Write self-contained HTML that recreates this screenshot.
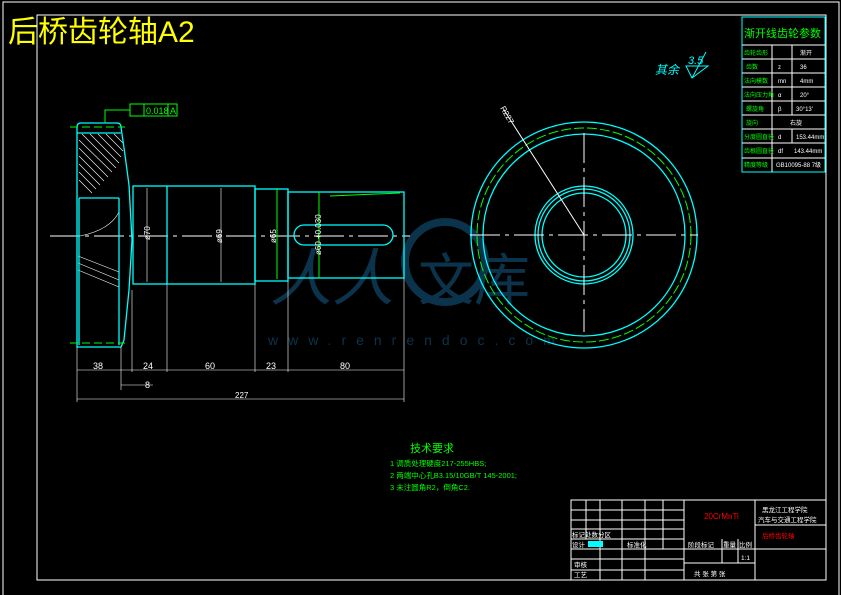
<!DOCTYPE html>
<html><head><meta charset="utf-8"><style>
html,body{margin:0;padding:0;background:#000;width:841px;height:595px;overflow:hidden}
svg{display:block}
text{font-family:"Liberation Sans","Noto Sans CJK SC",sans-serif}
</style></head><body>
<svg width="841" height="595" viewBox="0 0 841 595" xmlns="http://www.w3.org/2000/svg">
<rect x="3" y="2" width="836" height="600" fill="none" stroke="#fff" stroke-width="1"/>
<rect x="37" y="15" width="789" height="565" fill="none" stroke="#fff" stroke-width="1"/>
<text x="8" y="42" fill="#ff0" font-size="30" font-family="'Noto Serif CJK SC','Liberation Serif',serif">后桥齿轮轴A2</text>

<!-- watermark -->
<g fill="#0d3a55" opacity="0.9">
<text x="270" y="300" font-size="62" font-style="italic" font-family="'Noto Serif CJK SC',serif">人人</text>
<circle cx="445" cy="262" r="40" fill="none" stroke="#0d3a55" stroke-width="8"/>
<text x="418" y="300" font-size="56" font-family="'Noto Serif CJK SC',serif">文库</text>
<text x="268" y="345" font-size="14" letter-spacing="10" font-family="Liberation Serif,serif">www.renrendoc.com</text>
</g>

<!-- centerline -->
<line x1="50" y1="236" x2="410" y2="236" stroke="#fff" stroke-dasharray="30,5,4,5"/>
<!-- gear section -->
<g stroke="#fff" stroke-width="0.6" fill="none">
<path d="M79,140 L112,172 M79,148 L108,177 M79,156 L104,181 M79,164 L100,185 M79,172 L96,189 M79,180 L92,193 M82,134 L116,168 M90,134 L119,163 M98,134 L121,157 M106,134 L123,151 M114,134 L124,144"/>
<path d="M80,236 Q110,230 119,212"/>
<path d="M78,256 L119,272 M78,263 L119,280 M78,270 L119,287"/>
</g>
<g fill="none" stroke="#0ff" stroke-width="1.3">
<path d="M77,127 Q77,123 81,123 L117,123 Q121,123 121,127 L125,155 L129,185 L132,240 L129,290 L124,340 L121,347 L77,347 Z"/>
<line x1="77" y1="133" x2="121" y2="133"/>
<line x1="79" y1="198" x2="119" y2="198"/>
<line x1="79" y1="198" x2="79" y2="345"/>
<line x1="119" y1="198" x2="119" y2="345"/>
<rect x="133" y="186" width="122" height="98"/>
<line x1="167" y1="186" x2="167" y2="284"/>
<rect x="255" y="189" width="33" height="92"/>
<rect x="288" y="192" width="116" height="86"/>
<rect x="294" y="225" width="99" height="20" rx="10"/>
</g>
<g stroke="#fff" stroke-width="0.6">
<line x1="147" y1="188" x2="147" y2="282"/><line x1="221" y1="188" x2="221" y2="282"/>
<line x1="77" y1="347" x2="77" y2="402"/><line x1="121" y1="347" x2="121" y2="390"/>
<line x1="132" y1="290" x2="132" y2="372"/><line x1="167" y1="284" x2="167" y2="372"/>
<line x1="255" y1="284" x2="255" y2="372"/><line x1="288" y1="281" x2="288" y2="372"/>
<line x1="404" y1="278" x2="404" y2="402"/>
<line x1="77" y1="370" x2="404" y2="370"/>
<line x1="121" y1="385" x2="153" y2="385"/>
<line x1="77" y1="399" x2="404" y2="399"/>
</g>
<g stroke="#0f0" fill="none" stroke-width="1">
<line x1="70" y1="127" x2="125" y2="127" stroke-dasharray="8,4"/>
<line x1="70" y1="343" x2="125" y2="343" stroke-dasharray="8,4"/>
<path d="M105,123 L105,110 L130,110"/>
<rect x="130" y="104" width="14" height="12"/><rect x="144" y="104" width="24" height="12"/><rect x="168" y="104" width="9" height="12"/>
<line x1="277" y1="188" x2="277" y2="279"/><line x1="319" y1="192" x2="319" y2="278"/>
<line x1="330" y1="196" x2="400" y2="193"/>
</g>
<g font-size="9" fill="#fff">
<text x="93" y="369">38</text><text x="143" y="369">24</text><text x="205" y="369">60</text><text x="266" y="369">23</text><text x="340" y="369">80</text>
<text x="145" y="388">8</text><text x="235" y="398" font-size="8">227</text>
<text x="150" y="240" transform="rotate(-90 150 240)" font-size="8">ø70</text>
<text x="222" y="243" transform="rotate(-90 222 243)" font-size="8">ø69</text>
<text x="276" y="243" transform="rotate(-90 276 243)" font-size="8">ø65</text>
<text x="321" y="255" transform="rotate(-90 321 255)" font-size="8">ø60 +0.030</text>
</g>
<text x="146" y="114" fill="#0f0" font-size="9">0.018</text><text x="170" y="114" fill="#0f0" font-size="9">A</text>

<!-- gear end view -->
<g fill="none" stroke="#0ff" stroke-width="1.3">
<circle cx="584" cy="235" r="113"/>
<circle cx="584" cy="235" r="101"/>
<circle cx="584" cy="235" r="49"/>
<circle cx="584" cy="235" r="46"/>
<circle cx="584" cy="235" r="42"/>
</g>
<circle cx="584" cy="235" r="107" fill="none" stroke="#0f0" stroke-dasharray="10,3"/>
<g stroke="#fff">
<line x1="470" y1="235" x2="698" y2="235" stroke-dasharray="30,5,4,5"/>
<line x1="584" y1="133" x2="584" y2="332" stroke-dasharray="30,5,4,5"/>
<line x1="504" y1="110" x2="584" y2="235"/>
</g>
<text x="500" y="108" fill="#fff" font-size="8" transform="rotate(60 500 108)">R227</text>
<text x="655" y="74" fill="#0ff" font-size="12" font-style="italic">其余</text>
<text x="688" y="64" fill="#0ff" font-size="11" font-style="italic">3.5</text>
<path d="M686,66 L708,66 L692,78 Z M692,78 L706,52" fill="none" stroke="#0ff"/>

<!-- params table -->
<g stroke="#0ff" fill="none"><rect x="742" y="17" width="83" height="155"/></g>
<g stroke="#fff" stroke-width="1">
<line x1="742" y1="45" x2="825" y2="45"/><line x1="742" y1="59" x2="825" y2="59"/><line x1="742" y1="73" x2="825" y2="73"/><line x1="742" y1="87" x2="825" y2="87"/><line x1="742" y1="101" x2="825" y2="101"/><line x1="742" y1="115" x2="825" y2="115"/><line x1="742" y1="129" x2="825" y2="129"/><line x1="742" y1="143" x2="825" y2="143"/><line x1="742" y1="158" x2="825" y2="158"/>
<line x1="772" y1="45" x2="772" y2="172"/><line x1="792" y1="45" x2="792" y2="115"/><line x1="792" y1="129" x2="792" y2="143"/>
</g>
<text x="744" y="37" fill="#0f0" font-size="11">渐开线齿轮参数</text>
<g fill="#0f0" font-size="6">
<text x="744" y="55">齿轮齿形</text><text x="746" y="69">齿数</text><text x="744" y="83">法向模数</text><text x="744" y="97">法向压力角</text><text x="746" y="111">螺旋角</text><text x="746" y="125">旋向</text><text x="744" y="139">分度圆直径</text><text x="744" y="153">齿根圆直径</text><text x="744" y="167">精度等级</text>
</g>
<g fill="#fff" font-size="6">
<text x="800" y="55">渐开</text><text x="778" y="69">z</text><text x="800" y="69">36</text><text x="778" y="83">mn</text><text x="800" y="83">4mm</text><text x="778" y="97">α</text><text x="800" y="97">20°</text><text x="778" y="111">β</text><text x="796" y="111">30°13'</text><text x="790" y="125">右旋</text><text x="778" y="139">d</text><text x="796" y="139">153.44mm</text><text x="778" y="153">df</text><text x="794" y="153">143.44mm</text><text x="776" y="167">GB10095-88 7级</text>
</g>

<!-- tech requirements -->
<text x="410" y="452" fill="#0f0" font-size="11">技术要求</text>
<g fill="#0f0" font-size="7.5"><text x="390" y="466">1 调质处理硬度217-255HBS;</text><text x="390" y="478">2 两端中心孔B3.15/10GB/T 145-2001;</text><text x="390" y="490">3 未注圆角R2，倒角C2.</text></g>

<!-- title block -->
<g stroke="#fff" fill="none">
<rect x="571" y="500" width="255" height="80"/>
<line x1="571" y1="510" x2="684" y2="510"/><line x1="571" y1="520" x2="684" y2="520"/><line x1="571" y1="529" x2="684" y2="529"/><line x1="571" y1="539" x2="684" y2="539"/><line x1="571" y1="549" x2="826" y2="549"/><line x1="571" y1="559" x2="684" y2="559"/><line x1="571" y1="570" x2="684" y2="570"/>
<line x1="684" y1="500" x2="684" y2="580"/><line x1="755" y1="500" x2="755" y2="580"/><line x1="755" y1="525" x2="826" y2="525"/>
<line x1="684" y1="563" x2="755" y2="563"/>
<line x1="586" y1="500" x2="586" y2="539"/><line x1="600" y1="500" x2="600" y2="580"/><line x1="622" y1="500" x2="622" y2="580"/><line x1="645" y1="500" x2="645" y2="580"/><line x1="663" y1="500" x2="663" y2="549"/>
<line x1="722" y1="539" x2="722" y2="563"/><line x1="738" y1="539" x2="738" y2="563"/>
</g>
<text x="704" y="519" fill="#f00" font-size="8">20CrMnTi</text>
<text x="762" y="512" fill="#fff" font-size="6.5">黑龙江工程学院</text><text x="758" y="522" fill="#fff" font-size="6.5">汽车与交通工程学院</text>
<text x="762" y="538" fill="#f00" font-size="6.5">后桥齿轮轴</text>
<g fill="#fff" font-size="6.5"><text x="572" y="537">标记处数分区</text><text x="572" y="547">设计</text><text x="627" y="547">标准化</text><text x="574" y="567">审核</text><text x="574" y="577">工艺</text><text x="688" y="547">阶段标记</text><text x="723" y="547">重量</text><text x="739" y="547">比例</text><text x="741" y="560">1:1</text><text x="694" y="576">共 张 第 张</text></g>
<rect x="588" y="541" width="15" height="6" fill="#0ff"/>
</svg>
</body></html>
